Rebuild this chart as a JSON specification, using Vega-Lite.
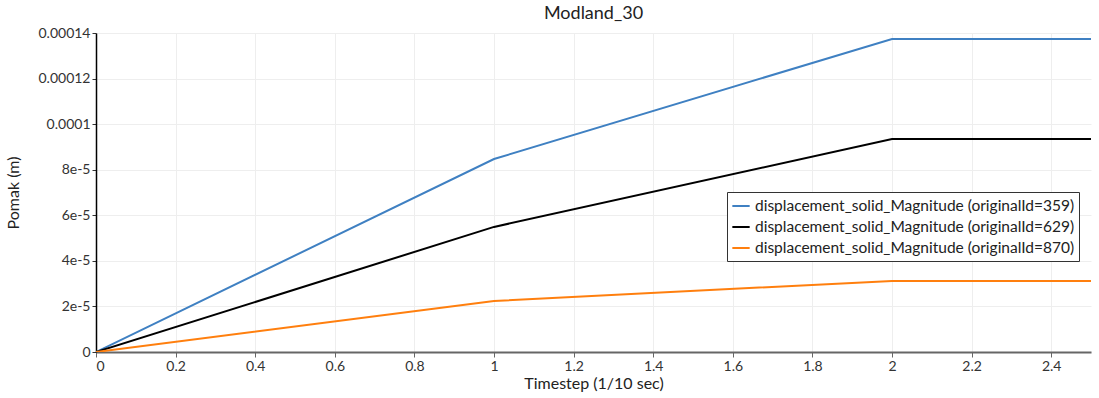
{
  "$schema": "https://vega.github.io/schema/vega-lite/v6.json",
  "autosize": "none",
  "width": 995,
  "height": 319,
  "padding": {"left": 96, "top": 33, "right": 8, "bottom": 46},
  "background": "white",
  "title": {"text": "Modland_30", "fontSize": 18, "font": "Lato", "fontWeight": "normal", "color": "#222222", "offset": 3},
  "config": {"view": {"stroke": null}, "font": "Lato"},
  "data": {"values": [
    {"t": 0, "v": 0, "s": "displacement_solid_Magnitude (originalId=359)"},
    {"t": 1, "v": 0.0000847, "s": "displacement_solid_Magnitude (originalId=359)"},
    {"t": 2, "v": 0.0001374, "s": "displacement_solid_Magnitude (originalId=359)"},
    {"t": 2.5, "v": 0.0001374, "s": "displacement_solid_Magnitude (originalId=359)"},
    {"t": 0, "v": 0, "s": "displacement_solid_Magnitude (originalId=629)"},
    {"t": 1, "v": 0.0000549, "s": "displacement_solid_Magnitude (originalId=629)"},
    {"t": 2, "v": 0.0000935, "s": "displacement_solid_Magnitude (originalId=629)"},
    {"t": 2.5, "v": 0.0000935, "s": "displacement_solid_Magnitude (originalId=629)"},
    {"t": 0, "v": 0, "s": "displacement_solid_Magnitude (originalId=870)"},
    {"t": 1, "v": 0.0000224, "s": "displacement_solid_Magnitude (originalId=870)"},
    {"t": 2, "v": 0.0000312, "s": "displacement_solid_Magnitude (originalId=870)"},
    {"t": 2.5, "v": 0.0000312, "s": "displacement_solid_Magnitude (originalId=870)"}
  ]},
  "mark": {"type": "line", "strokeWidth": 2, "clip": true},
  "encoding": {
    "x": {"field": "t", "type": "quantitative",
      "scale": {"domain": [0, 2.5], "nice": false, "zero": false},
      "axis": {"title": "Timestep (1/10 sec)", "values": [0,0.2,0.4,0.6,0.8,1,1.2,1.4,1.6,1.8,2,2.2,2.4],
        "format": "~g", "labelFontSize": 14, "labelColor": "#333333", "titleFontSize": 16, "titleFontWeight": "normal", "titleColor": "#222222",
        "titlePadding": 2, "domainColor": "#666666", "domainWidth": 2, "tickColor": "#666666", "tickSize": 5,
        "gridColor": "#eeeeee", "labelPadding": 2}},
    "y": {"field": "v", "type": "quantitative",
      "scale": {"domain": [0, 0.00014], "nice": false},
      "axis": {"title": "Pomak (m)", "values": [0,0.00002,0.00004,0.00006,0.00008,0.0001,0.00012,0.00014],
        "labelExpr": "datum.value == 0 ? '0' : (datum.value < 0.00009 ? format(datum.value, '.0e') : format(datum.value, '~g'))",
        "labelFontSize": 14, "labelColor": "#333333", "titleFontSize": 16, "titleFontWeight": "normal", "titleColor": "#222222",
        "titlePadding": 16, "domainColor": "#000000", "domainWidth": 1.5, "tickColor": "#333333", "tickSize": 4,
        "gridColor": "#eeeeee", "labelPadding": 2}},
    "color": {"field": "s", "type": "nominal",
      "scale": {"range": ["#3f80c2", "#000000", "#ff7f0e"]},
      "legend": {"title": null, "orient": "none", "legendX": 631, "legendY": 159,
        "symbolType": "stroke", "symbolStrokeWidth": 2, "symbolSize": 300,
        "labelFontSize": 15.5, "labelColor": "#222222", "strokeColor": "#333333", "fillColor": "white",
        "padding": 4, "rowPadding": 2, "labelLimit": 400, "labelOffset": 4}}
  }
}
